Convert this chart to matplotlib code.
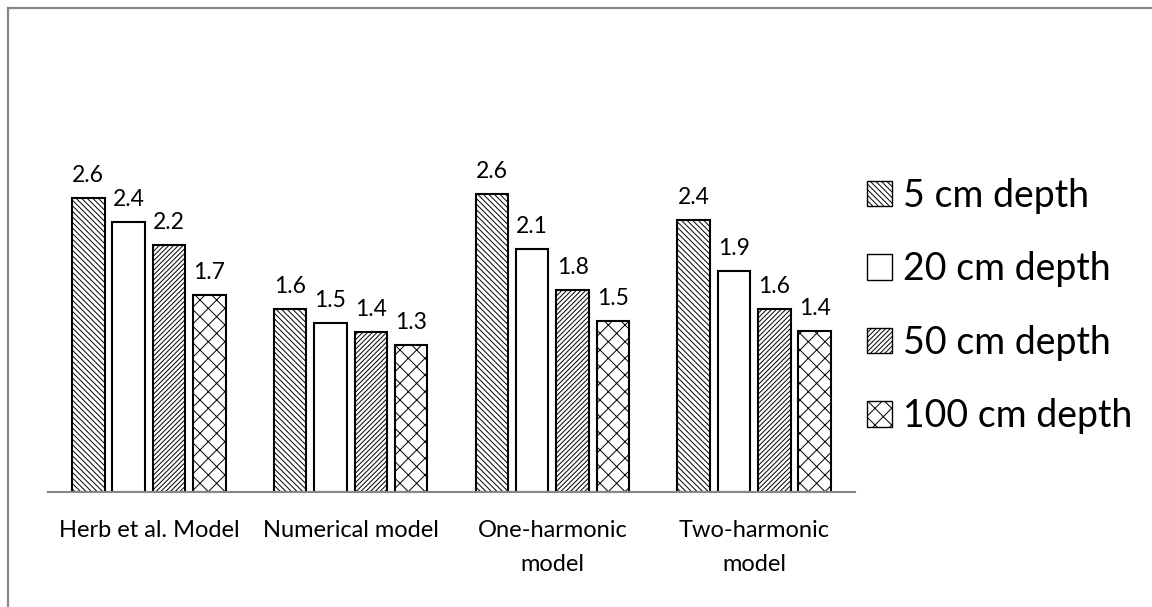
"""Grouped bar chart of model values at four soil depths, hatched bars."""

import matplotlib
matplotlib.use("Agg")
import matplotlib.pyplot as plt
import numpy as np
from matplotlib.lines import Line2D

models = ["Herb et al. Model", "Numerical model", "One-harmonic\nmodel", "Two-harmonic\nmodel"]
depths = ["5 cm depth", "20 cm depth", "50 cm depth", "100 cm depth"]

depth_5 = [2.57, 1.60, 2.61, 2.38]
depth_20 = [2.36, 1.48, 2.13, 1.93]
depth_50 = [2.16, 1.40, 1.77, 1.60]
depth_100 = [1.72, 1.29, 1.50, 1.41]

series = [depth_5, depth_20, depth_50, depth_100]
hatches = ["\\" * 6, "", "/" * 7, "xx"]

plt.rcParams["font.family"] = ["Lato", "DejaVu Sans"]
plt.rcParams["hatch.linewidth"] = 0.7
plt.rcParams["hatch.color"] = "#333333"

fig = plt.figure(figsize=(11.52, 6.07), dpi=100)
ax = fig.add_axes([48 / 1152, 115 / 607, 807 / 1152, 400 / 607])

x = np.arange(len(models))
step = 0.2
width = 0.161
handles = []
for i, (vals, hatch, label) in enumerate(zip(series, hatches, depths)):
    pos = x + (i - 1.5) * step
    bars = ax.bar(pos, vals, width, color="white", edgecolor="black",
                  linewidth=1.5, hatch=hatch, label=label)
    handles.append(bars)
    for xp, v in zip(pos, vals):
        ax.annotate(f"{v:.1f}", (xp, v), xytext=(0, 11.5), textcoords="offset points",
                    ha="center", va="baseline", fontsize=16.5)

ax.set_xlim(-0.5, len(models) - 0.5)
ax.set_ylim(0, 3.5)
ax.set_xticks(x)
ax.set_xticklabels(models, fontsize=17, linespacing=1.8)
ax.tick_params(axis="x", length=0, pad=20)
ax.set_yticks([])
for side in ["top", "right", "left"]:
    ax.spines[side].set_visible(False)
ax.spines["bottom"].set_color("#878787")
ax.spines["bottom"].set_linewidth(1.5)

leg = fig.legend(handles=handles, labels=depths, loc="center left",
                 bbox_to_anchor=(848 / 1152, 1 - 306 / 607), frameon=False,
                 fontsize=27, handlelength=0.67, handleheight=0.67,
                 handletextpad=0.3, labelspacing=1.0, borderpad=0)
for patch in leg.get_patches():
    patch.set_linewidth(1.0)

# outer chart border (top and left edges)
fig.add_artist(Line2D([7.5 / 1152, 1], [1 - 7.5 / 607, 1 - 7.5 / 607],
                      transform=fig.transFigure, color="#878787", lw=1.6))
fig.add_artist(Line2D([7.5 / 1152, 7.5 / 1152], [0, 1 - 7.5 / 607],
                      transform=fig.transFigure, color="#878787", lw=1.6))

fig.savefig("out.png", dpi=100)
